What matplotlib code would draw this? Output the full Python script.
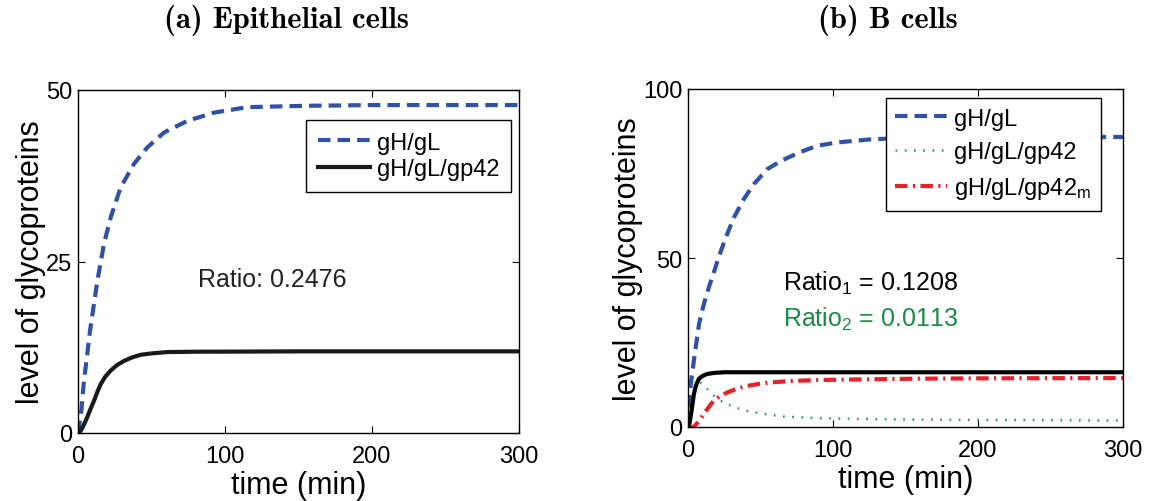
import matplotlib
matplotlib.use('Agg')
import matplotlib.pyplot as plt

plt.rcParams['font.family'] = ['Liberation Sans', 'DejaVu Sans']
plt.rcParams['mathtext.default'] = 'regular'

# (a) Epithelial cells
t_a_gHgL = [0, 1, 2.3, 4, 6.3, 8, 9.8, 13.2, 17.7, 22.2, 29, 38, 47, 58.5,
            74.4, 92.5, 115, 156, 200, 250, 300]
a_gHgL = [0, 1.3, 3.3, 7.5, 11.5, 14.6, 17.3, 22.2, 27.6, 31.4, 35.8, 39.2,
          41.6, 43.8, 45.5, 46.7, 47.5, 47.7, 47.8, 47.8, 47.8]
t_a_gp42 = [0, 1.8, 4, 6.3, 8.5, 10.9, 13, 15.4, 18.5, 22.2, 26.5, 31.3, 36.5,
            42.6, 50, 60.8, 80, 100, 150, 200, 300]
a_gp42 = [0, 0.3, 1.2, 2.3, 3.5, 4.7, 5.9, 7.1, 8.2, 9.1, 9.9, 10.5, 11.0,
          11.4, 11.6, 11.8, 11.85, 11.86, 11.9, 11.9, 11.9]

# (b) B cells
t_b_gHgL = [0, 0.7, 2, 4, 7.6, 11, 14.5, 18, 21.4, 26, 31.7, 38.6, 45.5, 54.7,
            64, 76.6, 89, 103, 126, 150, 200, 250, 300]
b_gHgL = [0, 6.9, 13, 19.5, 30.5, 36.5, 41.5, 46, 50.5, 56, 62, 67.5, 71.9,
          76.3, 78.7, 81.2, 83.2, 84.2, 85.1, 85.5, 85.7, 85.8, 85.8]
t_b_gp42 = [0, 1, 2, 3, 4, 5, 6, 7, 8, 9, 10, 12, 15, 18, 22, 27, 32, 43, 55,
            66, 80, 100, 130, 160, 200, 250, 300]
b_gp42 = [0, 1, 3.5, 6.4, 8.8, 10.6, 11.8, 12.6, 13.0, 13.0, 12.7, 11.8, 10.5,
          9.2, 7.9, 6.8, 5.8, 4.5, 3.7, 3.1, 2.8, 2.5, 2.3, 2.2, 2.1, 2.0, 1.9]
t_b_m = [0, 4, 7, 11, 15, 18, 22, 27, 33, 39, 48, 55, 70, 90, 120, 160, 200,
         300]
b_m = [0, 0, 1.5, 3.9, 6.3, 7.9, 9.1, 10.2, 11.2, 12.0, 12.7, 13.1, 13.6,
       13.9, 14.1, 14.3, 14.4, 14.5]
t_b_tot = [0, 1, 1.8, 3, 4.1, 5, 6, 7.6, 10, 13.3, 18, 24.8, 40, 60, 100,
           200, 300]
b_tot = [0, 1, 3, 6.5, 9.8, 11.5, 12.9, 14.3, 15.1, 15.7, 16.0, 16.2, 16.2,
         16.2, 16.2, 16.2, 16.2]

blue = '#3051A8'
red = '#E8202A'
green = '#3A9A62'
W, H = 1149, 502

fig = plt.figure(figsize=(W / 100, H / 100), dpi=100)
ax1 = fig.add_axes([78 / W, 1 - 434 / H, 441 / W, 343 / H])
ax2 = fig.add_axes([688 / W, 1 - 428 / H, 435 / W, 338 / H])

ax1.plot(t_a_gHgL, a_gHgL, color=blue, lw=3, dashes=(3, 1.7), label='gH/gL')
ax1.plot(t_a_gp42, a_gp42, color='#1a1a1a', lw=3, label='gH/gL/gp42')
ax1.set_ylim(0, 50)
ax1.set_yticks([0, 25, 50])
ax1.text(0.272, 0.449, 'Ratio: 0.2476', transform=ax1.transAxes, fontsize=18,
         va='center', color='#222222')
ax1.legend(loc='upper right', bbox_to_anchor=(0.982, 0.913), fontsize=17,
           handlelength=2.2, fancybox=False, edgecolor='black',
           framealpha=1, borderpad=0.5, labelspacing=0.2,
           handletextpad=0.3, borderaxespad=0)

ax2.plot(t_b_gHgL, b_gHgL, color=blue, lw=3, dashes=(3, 1.7), label='gH/gL')
ax2.plot(t_b_gp42, b_gp42, color=green, lw=1.8, dashes=(0.7, 3.0),
         label='gH/gL/gp42')
ax2.plot(t_b_m, b_m, color=red, lw=3, dashes=(3, 1.3, 0.5, 1.3),
         label='gH/gL/gp42$_m$')
ax2.plot(t_b_tot, b_tot, color='black', lw=3)
ax2.set_ylim(0, 100)
ax2.set_yticks([0, 50, 100])
ax2.text(0.218, 0.429, 'Ratio$_1$ = 0.1208', transform=ax2.transAxes,
         fontsize=18, va='center', color='black')
ax2.text(0.218, 0.32, 'Ratio$_2$ = 0.0113', transform=ax2.transAxes,
         fontsize=18, va='center', color='#1A8A45')
ax2.legend(loc='upper right', bbox_to_anchor=(0.949, 0.973), fontsize=17,
           handlelength=2.2, fancybox=False, edgecolor='black',
           framealpha=1, borderpad=0.4, labelspacing=0.5,
           handletextpad=0.3, borderaxespad=0)

for ax in (ax1, ax2):
    ax.set_xlim(0, 300)
    ax.set_xticks([0, 100, 200, 300])
    ax.tick_params(direction='in', top=True, right=True, labelsize=17,
                   length=5, width=0.8, pad=4)
    ax.tick_params(axis='x', pad=9)
    ax.set_xlabel('time (min)', fontsize=22, labelpad=2)
    ax.set_ylabel('level of glycoproteins', fontsize=22, labelpad=0)
    for s in ax.spines.values():
        s.set_linewidth(1.0)

fig.text(286 / W, 1 - 20 / H, '(a) Epithelial cells', family='cmb10',
         fontsize=22, ha='center', va='center')
fig.text(888 / W, 1 - 20 / H, '(b) B cells', family='cmb10',
         fontsize=22, ha='center', va='center')

fig.savefig('out.png', dpi=100)
plt.close(fig)
